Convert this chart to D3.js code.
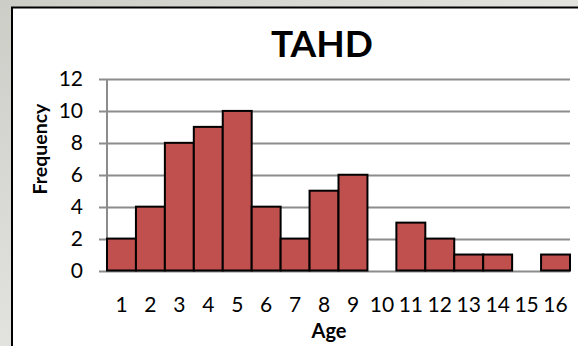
<!DOCTYPE html>
<html>
<head>
<meta charset="utf-8">
<script src="https://cdn.jsdelivr.net/npm/d3@7"></script>
<style>
  html, body { margin: 0; padding: 0; background: #cfcfcb; }
  svg { display: block; }
</style>
</head>
<body>
<svg id="chart" width="578" height="346"></svg>
<script>
// Age categories and their counts
const ages = ["1","2","3","4","5","6","7","8","9","10","11","12","13","14","15","16"];
const frequency = [2, 4, 8, 9, 10, 4, 2, 5, 6, 0, 3, 2, 1, 1, 0, 1];
const yTicks = [0, 2, 4, 6, 8, 10, 12];

const svg = d3.select("#chart");
const font = "Lato, 'Open Sans', sans-serif";

// stone-like backdrop
const defs = svg.append("defs");
const grad = defs.append("linearGradient").attr("id", "stone")
  .attr("x1", 0).attr("y1", 0).attr("x2", 1).attr("y2", 1);
grad.append("stop").attr("offset", 0).attr("stop-color", "#cdcdc8");
grad.append("stop").attr("offset", 0.5).attr("stop-color", "#e2e2de");
grad.append("stop").attr("offset", 1).attr("stop-color", "#c8c8c3");
svg.append("rect").attr("width", 578).attr("height", 346).attr("fill", "url(#stone)");

// chart frame
svg.append("rect")
  .attr("x", 12).attr("y", 7.5)
  .attr("width", 580).attr("height", 350)
  .attr("fill", "#ffffff")
  .attr("stroke", "#000000")
  .attr("stroke-width", 2);

const plot = { left: 107, right: 570, top: 79, bottom: 270.5 };

const x = d3.scaleBand().domain(ages).range([plot.left, plot.right]).padding(0);
const y = d3.scaleLinear().domain([0, 12]).range([plot.bottom, plot.top]);

// horizontal gridlines
svg.append("g")
  .selectAll("line")
  .data(yTicks)
  .join("line")
  .attr("x1", plot.left - 8).attr("x2", plot.right)
  .attr("y1", d => Math.round(y(d)) + 0.5).attr("y2", d => Math.round(y(d)) + 0.5)
  .attr("stroke", "#8c8c8c").attr("stroke-width", 2);

// vertical axis line
svg.append("line")
  .attr("x1", plot.left).attr("x2", plot.left)
  .attr("y1", plot.top).attr("y2", plot.bottom)
  .attr("stroke", "#8c8c8c").attr("stroke-width", 2);

// bars
svg.append("g")
  .selectAll("rect")
  .data(ages.map((a, i) => ({ age: a, value: frequency[i] })).filter(d => d.value > 0))
  .join("rect")
  .attr("x", d => x(d.age))
  .attr("y", d => y(d.value))
  .attr("width", x.bandwidth())
  .attr("height", d => y(0) - y(d.value))
  .attr("fill", "#c0504d")
  .attr("stroke", "#000000")
  .attr("stroke-width", 2);

// y tick labels
const yAxis = d3.axisLeft(y).tickValues(yTicks).tickSize(0).tickPadding(0);
const gy = svg.append("g").attr("transform", `translate(83,0)`).call(yAxis);
gy.select(".domain").remove();
gy.selectAll("text")
  .attr("font-family", font).attr("font-size", 21).attr("fill", "#000");

// x tick labels
const xAxis = d3.axisBottom(x).tickSize(0).tickPadding(0);
const gx = svg.append("g").attr("transform", `translate(0,297)`).call(xAxis);
gx.select(".domain").remove();
gx.selectAll("text")
  .attr("font-family", font).attr("font-size", 21).attr("fill", "#000");

// title
svg.append("text")
  .attr("x", 322).attr("y", 57)
  .attr("text-anchor", "middle")
  .attr("font-family", font).attr("font-weight", "bold").attr("font-size", 37)
  .text("TAHD");

// axis titles
svg.append("text")
  .attr("x", 329).attr("y", 338)
  .attr("text-anchor", "middle")
  .attr("font-family", font).attr("font-weight", "bold").attr("font-size", 20)
  .text("Age");

svg.append("text")
  .attr("transform", "translate(47,149) rotate(-90)")
  .attr("text-anchor", "middle")
  .attr("font-family", font).attr("font-weight", "bold").attr("font-size", 19.5)
  .text("Frequency");
</script>
</body>
</html>
